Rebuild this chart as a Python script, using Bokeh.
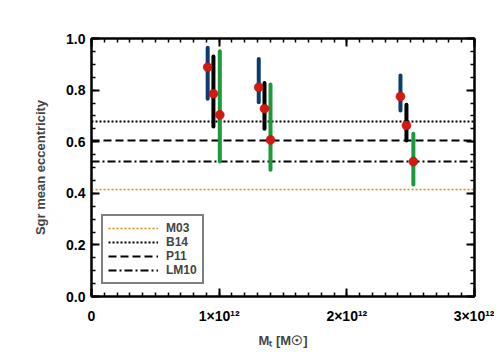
from bokeh.plotting import figure
from bokeh.models import (SingleIntervalTicker, LinearAxis, Legend, LegendItem, Range1d,
                          CustomJSTickFormatter)
from bokeh.embed import file_html
from bokeh.resources import INLINE

# ---- data ----
x_min, x_max = 0.0, 3e12
y_min, y_max = 0.0, 1.0

mass_blue = [0.91e12, 1.31e12, 2.42e12]
ecc_blue = [0.889, 0.811, 0.775]
lo_blue = [0.766, 0.753, 0.721]
hi_blue = [0.964, 0.921, 0.857]

mass_black = [0.955e12, 1.355e12, 2.467e12]
ecc_black = [0.786, 0.728, 0.663]
lo_black = [0.659, 0.650, 0.605]
hi_black = [0.930, 0.828, 0.743]

mass_green = [1.005e12, 1.402e12, 2.521e12]
ecc_green = [0.704, 0.607, 0.523]
lo_green = [0.523, 0.491, 0.434]
hi_green = [0.951, 0.822, 0.631]

ref_names = ["M03", "B14", "P11", "LM10"]
ref_values = [0.415, 0.678, 0.605, 0.523]
ref_colors = ["#e08a00", "black", "black", "black"]
ref_dashes = ["2 2", "2 2", "8 4", "8 3 2 3"]
ref_widths = [1.6, 2, 2, 2]

x_tick_labels = {0: "0", 1e12: "1×10¹²", 2e12: "2×10¹²", 3e12: "3×10¹²"}

FONT = "Liberation Sans"

p = figure(width=494, height=352, output_backend="svg", toolbar_location=None,
           x_range=Range1d(x_min, x_max), y_range=Range1d(y_min, y_max),
           min_border_left=91, min_border_right=20, min_border_top=38, min_border_bottom=56)
p.xgrid.visible = False
p.ygrid.visible = False
p.outline_line_color = "black"
p.outline_line_width = 2
p.background_fill_color = "white"
p.border_fill_color = "white"

# reference lines
items = []
for name, v, c, d, w in zip(ref_names, ref_values, ref_colors, ref_dashes, ref_widths):
    r = p.line([x_min, x_max], [v, v], line_color=c, line_dash=d, line_width=w)
    items.append(LegendItem(label=name, renderers=[r]))

# error bars
for xs, lo, hi, col in [(mass_blue, lo_blue, hi_blue, "#0d3c6e"),
                        (mass_black, lo_black, hi_black, "black"),
                        (mass_green, lo_green, hi_green, "#1b9a3a")]:
    p.segment(x0=xs, y0=lo, x1=xs, y1=hi, line_color=col, line_width=4, line_cap="round")

# central values
for xs, ys in [(mass_blue, ecc_blue), (mass_black, ecc_black), (mass_green, ecc_green)]:
    p.scatter(xs, ys, size=9, fill_color="#d41a10", line_color="#b01008", line_width=0.5)

# axes styling
def style_axis(ax):
    ax.axis_line_width = 2
    ax.major_tick_in = 8
    ax.major_tick_out = 0
    ax.minor_tick_in = 4
    ax.minor_tick_out = 0
    ax.major_tick_line_width = 2
    ax.minor_tick_line_width = 1.5
    ax.major_label_text_font = FONT
    ax.major_label_text_font_style = "bold"
    ax.major_label_text_font_size = "14px"
    ax.major_label_text_color = "black"
    ax.axis_label_text_font = FONT
    ax.axis_label_text_font_style = "bold"
    ax.axis_label_text_font_size = "13px"

xt = SingleIntervalTicker(interval=1e12, num_minor_ticks=10)
yt = SingleIntervalTicker(interval=0.2, num_minor_ticks=4)

p.xaxis.ticker = xt
p.yaxis.ticker = yt
style_axis(p.xaxis[0])
style_axis(p.yaxis[0])
p.xaxis.major_label_overrides = x_tick_labels
p.yaxis.formatter = CustomJSTickFormatter(code="return tick.toFixed(1);")
p.xaxis.major_label_standoff = 11
p.yaxis.major_label_standoff = 6
p.xaxis.axis_label = "Mₜ [M☉]"
p.yaxis.axis_label = "Sgr mean eccentricity"
p.xaxis.axis_label_standoff = 6
p.yaxis.axis_label_standoff = 15

blank = CustomJSTickFormatter(code="return '';")
ax_top = LinearAxis(ticker=SingleIntervalTicker(interval=1e12, num_minor_ticks=10), formatter=blank)
ax_right = LinearAxis(ticker=SingleIntervalTicker(interval=0.2, num_minor_ticks=4), formatter=blank)
style_axis(ax_top)
style_axis(ax_right)
ax_top.major_label_standoff = 0
ax_right.major_label_standoff = 0
p.add_layout(ax_top, "above")
p.add_layout(ax_right, "right")

legend = Legend(items=items, location=(10, 12))
legend.border_line_color = "black"
legend.border_line_width = 2
legend.label_text_font = FONT
legend.label_text_font_style = "bold"
legend.label_text_font_size = "12px"
legend.glyph_width = 50
legend.glyph_height = 14
legend.label_height = 14
legend.spacing = 0
legend.padding = 5
legend.margin = 0
legend.label_standoff = 8
legend.background_fill_alpha = 1
p.add_layout(legend, "center")

open("out.html", "w").write(file_html(p, INLINE))
